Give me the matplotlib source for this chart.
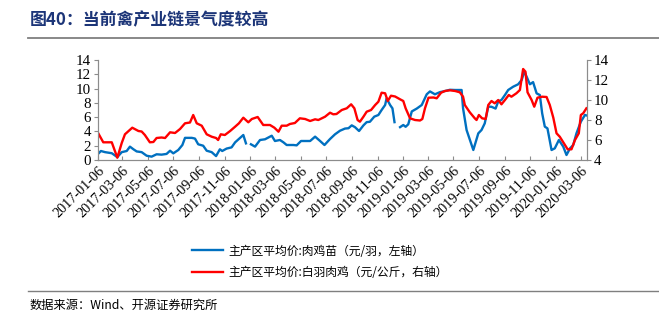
import pandas as pd
import numpy as np
import matplotlib
import matplotlib.pyplot as plt
from matplotlib.lines import Line2D
matplotlib.use('Agg')

# weekly series, x given as weeks after the first report date
start = pd.Timestamp("2017-01-06")

chick_week = [0, 1.1, 2.5, 4.8, 6.7, 8.2, 9.9, 11, 12.2, 13.3, 15, 16.7, 18.4, 20.1, 21.8, 23.5,
              24.7, 25.8, 27.5, 28.9, 29.8, 32.1, 33.2, 34.3, 36, 37.2, 38.9, 40.4, 41.7, 42.5,
              44, 45.7, 46.9, 48.6, 49.7, 50.6, 51.5, 52.3, 53.7, 55.4, 57.1, 59.4, 60.5, 62.2,
              63.4, 64.5, 66.8, 67.9, 69.4, 72.5, 74.2, 75.9, 77.4, 79.3, 81, 82.7, 84.4, 85.6,
              86.7, 87.8, 89.2, 90.7, 91.8, 92.9, 94.4, 95.8, 96.9, 98.1, 98.6, 99.8, 100.6,
              101.3, 102.2, 103.2, 104.3, 105.1, 106, 107.2, 108.9, 110.6, 112.3, 113.4, 115.1,
              116.8, 118.5, 120.2, 122, 124.2, 124.7, 125.9, 128.2, 129.9, 131, 132.1, 133.3,
              134.4, 135.8, 136.7, 137.8, 139, 140.1, 141.8, 143.5, 144.7, 145.6, 146.4, 147.5,
              148.6, 149.8, 150.9, 151.7, 152.6, 153.5, 154.9, 156, 157.4, 158.9, 160, 161.2,
              162.3, 163.4, 164.9, 166.3, 167.2]
chick_price = [0.8, 1.26, 1.1, 0.95, 0.4, 1.1, 1.26, 1.87, 1.5, 1.2, 1.1, 0.6, 0.47, 0.8, 0.75, 0.85,
               1.3, 0.93, 1.4, 2.1, 3.1, 3.1, 3.0, 2.2, 2.0, 1.3, 1.1, 0.55, 1.5, 1.26,
               1.6, 1.77, 2.47, 3.1, 3.5, 2.33, np.nan, 2.2, 1.87, 2.8, 2.9, 3.4, 2.66, 2.8,
               2.47, 2.1, 2.1, 2.05, 2.66, 2.66, 3.27, 2.66, 2.1, 2.94, 3.6, 4.1, 4.4, 4.45,
               4.85, 4.6, 4.06, 4.85, 5.3, 5.35, 6.07, 6.3, 7.0, 7.7, 8.63, 7.7, 7.23,
               5.3, np.nan, 4.6, 4.9, 4.65, 5.0, 6.8, 7.2, 7.7, 9.2, 9.6, 9.2,
               9.5, 9.65, 9.83, 9.8, 9.8, 7.23, 4.2, 1.4, 3.73, 4.2, 5.13, 7.47,
               7.45, 7.2, 8.2, 8.4, 9.1, 9.8, 10.26, 10.6, 11.2, 12.37, 11.66, 10.6,
               10.9, 9.33, 9.1, 6.53, 4.67, 4.43, 1.4, 1.63, 2.8, 1.87, 0.7, 1.63,
               2.1, 3.73, 5.36, 6.3, 6.2]

broiler_week = [0, 1.9, 4.8, 6.7, 8.2, 9.3, 11.8, 13.9, 15, 16.1, 17.8, 19, 20.1, 21.8, 23, 24.7,
                26.4, 28.1, 29.8, 31.5, 32.6, 33.8, 35.5, 37.2, 38.9, 40.4, 41.1, 42, 43.4, 45.2,
                46.9, 48.2, 49.7, 51.4, 52.6, 54.6, 56.5, 58.8, 60.3, 61.7, 62.8, 64.5, 65.6,
                67.3, 69, 70.8, 72.5, 74.2, 75.3, 77.6, 79.3, 80.4, 81.5, 83.3, 85, 86.5, 87.6,
                88.7, 89.5, 90.7, 91.8, 93.3, 94.7, 95.8, 96.9, 98.1, 99, 100.1, 101.5, 103.2,
                104.3, 105.1, 106.6, 108.3, 110, 110.8, 111.7, 112.9, 114.6, 115.7, 117.2, 118.5,
                120.2, 122, 123.6, 124.7, 125.3, 127, 128.7, 129.3, 130.1, 131.2, 132.4, 133.3,
                134.4, 135.5, 136.7, 137.8, 139, 140.3, 141.2, 142.9, 144.1, 145.2, 146, 146.7,
                148.1, 149, 150.1, 151.7, 153.2, 154.3, 155.5, 156.6, 157.7, 158.9, 160.4, 161.7,
                162.9, 164.2, 164.9, 165.7, 166.8]
broiler_price = [6.77, 5.77, 5.77, 4.23, 5.7, 6.57, 7.23, 6.9, 6.85, 6.5, 5.77, 5.8, 6.2, 6.25, 6.2, 6.77,
                 6.7, 7.1, 7.67, 7.75, 8.5, 7.67, 7.43, 6.57, 6.33, 6.2, 6.0, 6.57, 6.5, 6.9,
                 7.33, 7.67, 8.23, 7.77, 8.1, 8.3, 7.5, 7.5, 7.23, 6.83, 7.43, 7.43, 7.6,
                 7.7, 8.17, 8.1, 7.9, 8.07, 8.0, 8.33, 8.73, 8.57, 8.6, 9.0, 9.17, 9.57, 9.17,
                 8.0, 7.83, 8.33, 8.83, 9.0, 9.5, 9.83, 10.73, 10.67, 9.9, 10.43, 10.35, 10.07,
                 9.9, 9.17, 8.17, 8.0, 7.95, 8.1, 9.17, 10.23, 10.25, 10.17, 10.73, 10.9,
                 10.97, 10.9, 10.77, 10.33, 9.5, 8.77, 8.17, 8.0, 8.5, 8.17, 8.1, 9.5,
                 9.9, 9.67, 10.0, 9.57, 10.0, 10.5, 10.33, 10.67, 11.0, 13.1, 12.83, 10.77,
                 10.0, 9.33, 10.23, 10.33, 10.3, 9.5, 8.23, 6.67, 6.33, 5.77, 5.07, 5.07,
                 6.0, 6.67, 8.5, 8.67, 9.17]

chick_label = "主产区平均价:肉鸡苗（元/羽，左轴）"
broiler_label = "主产区平均价:白羽肉鸡（元/公斤，右轴）"
title_text = "图40：当前禽产业链景气度较高"
source_text = "数据来源：Wind、开源证券研究所"
tick_dates = pd.date_range("2017-01-06", periods=20, freq=pd.DateOffset(months=2))

def to_dates(weeks):
	return [start + pd.Timedelta(days=7 * w) for w in weeks]

serif = ['Liberation Serif', 'Noto Sans CJK SC']
cjk = ['Noto Sans CJK SC', 'DejaVu Sans']
plt.rcParams['font.family'] = cjk

fig = plt.figure(figsize=(6.59, 3.24), dpi=100)
ax = fig.add_axes([97.7 / 659, 1 - 160 / 324, (587 - 97.7) / 659, 100 / 324])
ax2 = ax.twinx()

blue = '#0070C0'
red = '#FF0000'
ax.plot(to_dates(chick_week), chick_price, color=blue, lw=1.7, solid_joinstyle='round')
ax2.plot(to_dates(broiler_week), broiler_price, color=red, lw=1.7, solid_joinstyle='round')

ax.set_xlim(start, pd.Timestamp("2020-03-20"))
ax.set_ylim(0, 14)
ax2.set_ylim(4, 14)
ax.set_yticks(range(0, 15, 2))
ax2.set_yticks(range(4, 15, 2))
ax.set_xticks(tick_dates)
ax.set_xticklabels([d.strftime("%Y-%m-%d") for d in tick_dates], rotation=45,
                   ha='right', va='top', rotation_mode='anchor', family=serif, fontsize=10.3)
for lab in ax.get_yticklabels() + ax2.get_yticklabels():
	lab.set_family(serif)
	lab.set_fontsize(10.8)

spine_col = '#8c8c8c'
for a in (ax, ax2):
	a.spines['top'].set_visible(False)
	for s in ('left', 'right', 'bottom'):
		a.spines[s].set_color(spine_col)
ax.tick_params(axis='x', direction='in', length=3, color=spine_col, pad=3)
ax.tick_params(axis='y', direction='out', length=3, color=spine_col, pad=2)
ax2.tick_params(axis='y', direction='out', length=3, color=spine_col, pad=2)
ax2.set_zorder(ax.get_zorder() + 1)

handles = [Line2D([], [], color=blue, lw=1.7), Line2D([], [], color=red, lw=1.7)]
fig.legend(handles, [chick_label, broiler_label], loc='upper left',
           bbox_to_anchor=(181 / 659, 1 - 234 / 324), frameon=False, fontsize=8.5,
           handlelength=2.7, handletextpad=0.45, labelspacing=0.75)

# header and footer
fig.text(30 / 659, 1 - 20 / 324, title_text, fontsize=12.2, fontweight='bold',
         color='#1c3578', va='center', ha='left', family=cjk)
fig.add_artist(Line2D([28 / 659, 1], [1 - 38 / 324] * 2, color='#7f7f7f', lw=1.3))
fig.add_artist(Line2D([28 / 659, 1], [1 - 291 / 324] * 2, color='#7f7f7f', lw=1.0))
fig.text(30 / 659, 1 - 305 / 324, source_text, fontsize=8.8, va='center', ha='left', family=cjk)

fig.savefig("out.png", dpi=100)
